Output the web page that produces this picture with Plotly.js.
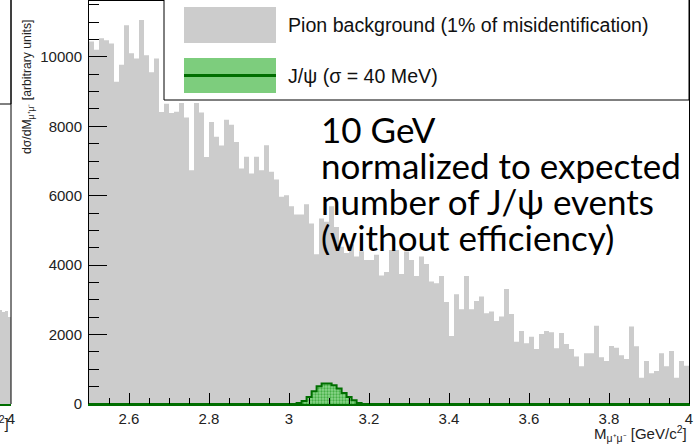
<!DOCTYPE html>
<html>
<head>
<meta charset="utf-8">
<script src="https://cdn.plot.ly/plotly-3.0.1.min.js"></script>
<style>html,body{margin:0;padding:0;background:#fff;}#chart{width:698px;height:445px;}</style>
</head>
<body>
<div id="chart"></div>
<script>
// ---- data ----
// Pion background histogram: 120 bins of 0.0125 GeV/c^2 from 2.5 to 4.0
const massBinLow = 2.5;
const massBinWidth = 0.0125;
const pionCounts = [
  10443, 10204, 10539, 10482, 10386, 9283, 9772, 10913, 10108, 9954,
  11067, 10050, 9561, 9954, 8410, 8650, 8382, 8420, 8669, 8257,
  6732, 8669, 8401, 7116, 8123, 7701, 7451, 8190, 8046, 7547,
  6786, 7122, 6642, 7122, 6738, 7458, 6689, 6469, 5968, 6017,
  5700, 5460, 5460, 5757, 5200, 4316, 5345, 5248, 5700, 5103,
  4530, 4350, 4600, 4250, 4400, 4150, 4150, 4300, 3700, 3800,
  4440, 4440, 3748, 4392, 4152, 3690, 4248, 4036, 3527, 3479,
  3690, 2941, 1960, 3162, 2729, 3690, 2729, 2970, 3094, 2614,
  2662, 2393, 2518, 3315, 2595, 1797, 2105, 1749, 1941, 1586,
  2018, 2105, 2066, 1605, 2047, 1730, 1586, 1365, 1086, 1461,
  1461, 2258, 1345, 1240, 1672, 1624, 1403, 1297, 2230, 1663,
  759, 1240, 884, 951, 1461, 1086, 1528, 759, 1240, 1105
];
// J/psi signal histogram (sigma = 40 MeV), non-zero bins
const jpsiBinLow = 3.019;
const jpsiBinWidth = 0.0125;
const jpsiCounts = [30, 86, 200, 370, 512, 588, 588, 539, 444, 317, 202, 107, 29];
// Neighbouring panel (only its last bins are visible at the left edge)
const leftPanelBinCenters = [3.95625, 3.96875, 3.98125, 3.99375];
const leftPanelCounts = [2700, 2650, 2680, 2510];

const xTickRange = [2.5, 4.0];
const legendLabels = ['Pion background (1% of misidentification)', 'J/\u03c8 (\u03c3 = 40 MeV)'];
const noteText = ['10 GeV', 'normalized to expected', 'number of J/\u03c8 events', '(without efficiency)'];
const yTitle = 'd\u03c3/dM<sub>\u03bc\u207a\u03bc\u207b</sub> [arbitrary units]';
const xTitle = 'M<sub>\u03bc\u207a\u03bc\u207b</sub> [GeV/c<sup>2</sup>]';

// ---- build step histograms ----
const pionX = [], pionY = [];
pionCounts.forEach((v, i) => { pionX.push(massBinLow + i * massBinWidth); pionY.push(v); });
pionX.push(massBinLow + pionCounts.length * massBinWidth); pionY.push(pionCounts[pionCounts.length - 1]);

const jpsiX = [xTickRange[0]], jpsiY = [0];
jpsiCounts.forEach((v, i) => { jpsiX.push(jpsiBinLow + i * jpsiBinWidth); jpsiY.push(v); });
jpsiX.push(jpsiBinLow + jpsiCounts.length * jpsiBinWidth); jpsiY.push(0);
jpsiX.push(xTickRange[1]); jpsiY.push(0);

// ---- geometry helpers (pixels -> paper) ----
const W = 698, H = 445, B = 41, PH = H - B;
const px = x => x / W;
const py = y => (PH - y) / PH;

const GREEN = '#006e00';
const SANS = 'Liberation Sans, Arial, sans-serif';
const tickFont = {family: SANS, size: 15, color: '#222'};

const traces = [
  {
    x: pionX, y: pionY, type: 'scatter', mode: 'lines',
    line: {shape: 'hv', width: 0, color: '#cccccc'},
    fill: 'tozeroy', fillcolor: '#cccccc',
    name: legendLabels[0], xaxis: 'x', yaxis: 'y', hoverinfo: 'skip'
  },
  {
    x: jpsiX, y: jpsiY, type: 'scatter', mode: 'lines',
    line: {shape: 'hv', width: 2, color: GREEN},
    fill: 'tozeroy', fillcolor: 'rgb(125,205,125)',
    fillpattern: {shape: '.', fgcolor: 'rgb(70,175,70)', bgcolor: 'rgb(140,215,140)', size: 3, solidity: 0.45},
    name: legendLabels[1], xaxis: 'x', yaxis: 'y', hoverinfo: 'skip'
  },
  {
    x: leftPanelBinCenters, y: leftPanelCounts, type: 'bar',
    width: massBinWidth, marker: {color: '#cccccc', line: {width: 0}},
    xaxis: 'x2', yaxis: 'y2', hoverinfo: 'skip'
  }
];

const shapes = [
  // top frame line
  {type: 'line', xref: 'paper', yref: 'paper', x0: px(89), x1: px(689), y0: py(0.5), y1: py(0.5), line: {color: 'black', width: 1}},
  // legend box
  {type: 'rect', xref: 'paper', yref: 'paper', x0: px(164), x1: px(689), y0: py(100), y1: py(-2), fillcolor: 'white', line: {color: 'black', width: 1}},
  {type: 'rect', xref: 'paper', yref: 'paper', x0: px(184), x1: px(276), y0: py(43), y1: py(7), fillcolor: '#cccccc', line: {width: 0}},
  {type: 'rect', xref: 'paper', yref: 'paper', x0: px(184), x1: px(276), y0: py(93), y1: py(58), fillcolor: 'rgb(125,205,125)', line: {width: 0}},
  {type: 'line', xref: 'paper', yref: 'paper', x0: px(184), x1: px(276), y0: py(75.5), y1: py(75.5), line: {color: GREEN, width: 3}},
  // neighbouring panel: legend box corner and frame edge
  {type: 'rect', xref: 'paper', yref: 'paper', x0: px(-20), x1: px(11), y0: py(104), y1: py(-2), fillcolor: 'white', line: {color: 'black', width: 1}},
  {type: 'line', xref: 'paper', yref: 'paper', x0: px(11), x1: px(11), y0: py(404), y1: py(0), line: {color: 'black', width: 1}}
];

const noteY = [129, 165, 201, 237];
const annotations = [
  {xref: 'paper', yref: 'paper', x: px(286), y: py(25), xanchor: 'left', yanchor: 'middle', showarrow: false,
   text: legendLabels[0], font: {family: SANS, size: 19.6, color: '#111'}},
  {xref: 'paper', yref: 'paper', x: px(286), y: py(75.5), xanchor: 'left', yanchor: 'middle', showarrow: false,
   text: legendLabels[1], font: {family: SANS, size: 19.6, color: '#111'}},
  {xref: 'paper', yref: 'paper', x: px(28), y: py(87), xanchor: 'center', yanchor: 'middle', textangle: -90, showarrow: false,
   text: yTitle, font: {family: SANS, size: 12.2, color: '#222'}},
  {xref: 'paper', yref: 'paper', x: px(689), y: py(433), xanchor: 'right', yanchor: 'middle', showarrow: false,
   text: xTitle, font: {family: SANS, size: 15, color: '#222'}},
  {xref: 'paper', yref: 'paper', x: px(11), y: py(423), xanchor: 'right', yanchor: 'middle', showarrow: false,
   text: xTitle, font: {family: SANS, size: 15, color: '#222'}}
];
noteText.forEach((t, i) => annotations.push({
  xref: 'paper', yref: 'paper', x: px(320), y: py(noteY[i]), xanchor: 'left', yanchor: 'middle', align: 'left',
  valign: 'middle', height: 36, borderpad: 0,
  showarrow: false, text: t, font: {family: 'Lato, sans-serif', size: 35, color: 'black'}
}));

const layout = {
  width: W, height: H,
  margin: {l: 0, r: 0, t: 0, b: B, pad: 0},
  paper_bgcolor: 'white', plot_bgcolor: 'white',
  showlegend: false,
  xaxis: {
    domain: [px(89), px(689)], range: xTickRange, anchor: 'y',
    dtick: 0.2, tick0: 0, ticks: 'inside', ticklen: 11, tickwidth: 1, tickcolor: 'black',
    minor: {dtick: 0.05, ticks: 'inside', ticklen: 6, tickwidth: 1, tickcolor: 'black', showgrid: false},
    showline: true, linecolor: GREEN, linewidth: 2, showgrid: false, zeroline: false,
    tickfont: tickFont
  },
  yaxis: {
    domain: [0, 1], range: [0, 11640], anchor: 'x',
    dtick: 2000, tick0: 0, tickformat: 'd', ticks: 'inside', ticklen: 18, tickwidth: 1, tickcolor: 'black',
    minor: {dtick: 500, ticks: 'inside', ticklen: 10, tickwidth: 1, tickcolor: 'black', showgrid: false},
    showline: true, mirror: true, linecolor: 'black', linewidth: 1, showgrid: false, zeroline: false,
    tickfont: tickFont, ticklabelstandoff: 3
  },
  xaxis2: {
    domain: [0, px(11)], range: [3.955, 4.0], anchor: 'y2',
    dtick: 0.2, tick0: 0, ticks: '', showline: true, linecolor: GREEN, linewidth: 2,
    showgrid: false, zeroline: false, tickfont: tickFont
  },
  yaxis2: {domain: [0, 1], range: [0, 11640], anchor: 'x2', visible: false},
  bargap: 0,
  shapes: shapes,
  annotations: annotations
};

Plotly.newPlot('chart', traces, layout, {displayModeBar: false, staticPlot: true});
</script>
</body>
</html>
